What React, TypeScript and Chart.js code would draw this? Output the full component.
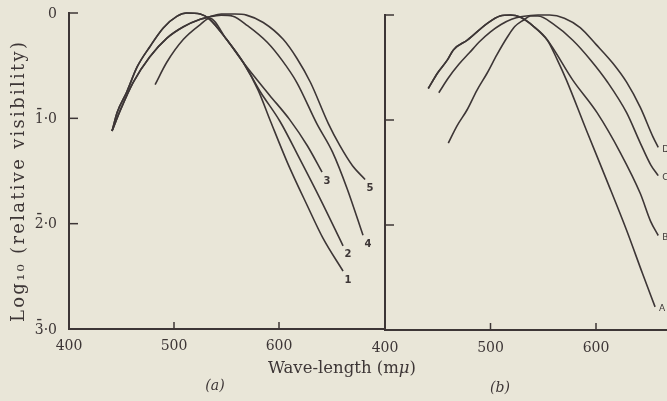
import React, { useEffect, useRef } from 'react';
import { Chart, registerables } from 'chart.js';

Chart.register(...registerables);

const PAPER = '#e9e6d8';
const INK = '#3d3636';

// axis ticks
const wavelengthTicks = [400, 500, 600];
const logTicks = [0, -1, -2, -3];
const logTickLabels = ['0', '1\u0304·0', '2\u0304·0', '3\u0304·0'];
const innerLogTicks = [0, -1, -2];
const innerWlTicks = [500, 600];

// panel (a) curves
const aNames = ['1', '2', '3', '4', '5'];
const a1Wl = [441, 446, 455, 465, 477, 490, 503, 512, 525, 534, 550, 566, 580, 592, 608, 627, 642, 661];
const a1Log = [-1.12, -0.94, -0.75, -0.51, -0.32, -0.14, -0.03, 0, -0.01, -0.06, -0.25, -0.47, -0.73, -1.03, -1.42, -1.83, -2.14, -2.45];
const a2Wl = [441, 446, 455, 465, 477, 490, 503, 512, 525, 534, 550, 566, 582, 601, 620, 639, 661];
const a2Log = [-1.12, -0.94, -0.75, -0.51, -0.32, -0.14, -0.03, 0, -0.01, -0.06, -0.25, -0.47, -0.745, -1.03, -1.39, -1.76, -2.21];
const a3Wl = [482, 493, 509, 525, 534, 550, 566, 591, 610, 627, 641];
const a3Log = [-0.68, -0.47, -0.25, -0.11, -0.05, -0.25, -0.47, -0.78, -1.01, -1.26, -1.51];
const a4Wl = [441, 449, 461, 477, 493, 509, 525, 534, 545, 556, 570, 589, 603, 617, 636, 651, 665, 680];
const a4Log = [-1.12, -0.92, -0.66, -0.415, -0.24, -0.13, -0.06, -0.035, -0.02, -0.03, -0.12, -0.28, -0.45, -0.66, -1.05, -1.32, -1.67, -2.11];
const a5Wl = [441, 449, 461, 477, 493, 509, 525, 534, 545, 558, 569, 585, 604, 617, 630, 647, 658, 670, 682];
const a5Log = [-1.12, -0.92, -0.66, -0.415, -0.24, -0.13, -0.06, -0.035, -0.01, -0.01, -0.02, -0.09, -0.25, -0.43, -0.66, -1.05, -1.26, -1.45, -1.58];

// panel (b) curves
const bNames = ['A', 'B', 'C', 'D'];
const bAWl = [441, 450, 459, 465, 478, 497, 509, 519, 528, 541, 554, 563, 572, 591, 610, 629, 644, 656];
const bALog = [-0.7, -0.55, -0.43, -0.33, -0.24, -0.08, -0.01, 0, -0.02, -0.11, -0.24, -0.42, -0.62, -1.1, -1.57, -2.05, -2.46, -2.78];
const bBWl = [441, 450, 459, 465, 478, 497, 509, 519, 528, 541, 554, 578, 601, 623, 642, 652, 659];
const bBLog = [-0.7, -0.55, -0.43, -0.33, -0.24, -0.08, -0.01, 0, -0.02, -0.11, -0.24, -0.62, -0.93, -1.31, -1.7, -1.97, -2.1];
const bCWl = [460, 468, 478, 487, 497, 506, 516, 523, 531, 538, 545, 560, 578, 595, 611, 629, 642, 652, 659];
const bCLog = [-1.22, -1.06, -0.9, -0.72, -0.55, -0.38, -0.21, -0.11, -0.05, -0.01, -0.01, -0.09, -0.24, -0.43, -0.64, -0.93, -1.22, -1.43, -1.53];
const bDWl = [451, 460, 470, 480, 490, 500, 510, 520, 530, 545, 556, 570, 585, 600, 616, 629, 642, 654, 659];
const bDLog = [-0.74, -0.6, -0.47, -0.36, -0.25, -0.16, -0.09, -0.04, -0.015, 0, 0, -0.03, -0.12, -0.28, -0.46, -0.64, -0.88, -1.16, -1.26];

const toPts = (xs: number[], ys: number[]) => xs.map((x, i) => ({ x, y: ys[i] }));

const serif = (size: number, style = '') => `${style} ${size}px "DejaVu Serif"`.trim();

function makeDatasets(series: { x: number; y: number }[][], names: string[]) {
  return series.map((data, i) => ({
    label: names[i],
    data,
    borderColor: INK,
    borderWidth: 1.6,
    pointRadius: 0,
    fill: false,
    cubicInterpolationMode: 'monotone' as const,
    clip: false as any,
  }));
}

function drawInnerTicks(chart: any, ticksY: number[], ticksX: number[]) {
  const { ctx, chartArea, scales } = chart;
  ctx.save();
  ctx.strokeStyle = INK;
  ctx.lineWidth = 1.5;
  ticksY.forEach((v) => {
    const y = scales.y.getPixelForValue(v);
    ctx.beginPath();
    ctx.moveTo(chartArea.left, y);
    ctx.lineTo(chartArea.left + 9, y);
    ctx.stroke();
  });
  ticksX.forEach((v) => {
    const x = scales.x.getPixelForValue(v);
    ctx.beginPath();
    ctx.moveTo(x, chartArea.bottom);
    ctx.lineTo(x, chartArea.bottom - 7);
    ctx.stroke();
  });
  ctx.restore();
}

function drawEndLabels(chart: any, font: string, dx: number, dy: number, align: CanvasTextAlign) {
  const { ctx, scales } = chart;
  ctx.save();
  ctx.fillStyle = INK;
  ctx.font = font;
  ctx.textAlign = align;
  ctx.textBaseline = 'middle';
  chart.data.datasets.forEach((ds: any) => {
    const last = ds.data[ds.data.length - 1];
    const px = scales.x.getPixelForValue(last.x);
    const py = scales.y.getPixelForValue(last.y);
    ctx.fillText(ds.label, px + dx, py + dy);
  });
  ctx.restore();
}

// y tick labels with a bar (negative characteristic) over the first digit
function drawLogLabels(chart: any) {
  const { ctx, chartArea, scales } = chart;
  ctx.save();
  ctx.fillStyle = INK;
  ctx.textBaseline = 'middle';
  ctx.textAlign = 'left';
  logTicks.forEach((v, i) => {
    const label = logTickLabels[i];
    const hasBar = label.includes('\u0304');
    const plain = label.replace('\u0304', '');
    const y = scales.y.getPixelForValue(v) + 1;
    ctx.font = serif(14);
    const w = ctx.measureText(plain).width;
    const x0 = chartArea.left - 12 - w;
    ctx.fillText(plain, x0, y);
    if (hasBar) {
      const dw = ctx.measureText(plain[0]).width;
      ctx.font = serif(14, 'bold');
      ctx.textAlign = 'center';
      ctx.fillText('\u00af', x0 + dw / 2, y - 4);
      ctx.textAlign = 'left';
    }
  });
  ctx.restore();
}

const panelAPlugin = {
  id: 'panelA',
  afterDraw(chart: any) {
    drawInnerTicks(chart, innerLogTicks, innerWlTicks);
    drawLogLabels(chart);
    drawEndLabels(chart, 'bold 10px "DejaVu Sans"', 5, 9, 'center');
    const ctx = chart.ctx as CanvasRenderingContext2D;
    ctx.save();
    ctx.fillStyle = INK;
    // x-axis title
    const p1 = 'Wave-length (m';
    const p2 = '\u03bc';
    const p3 = ')';
    const fs = 16.5;
    ctx.font = serif(fs);
    const w1 = ctx.measureText(p1).width;
    const w3 = ctx.measureText(p3).width;
    ctx.font = serif(fs, 'italic');
    const w2 = ctx.measureText(p2).width;
    let x = 342 - (w1 + w2 + w3) / 2;
    ctx.textBaseline = 'alphabetic';
    ctx.textAlign = 'left';
    ctx.font = serif(fs);
    ctx.fillText(p1, x, 373);
    x += w1;
    ctx.font = serif(fs, 'italic');
    ctx.fillText(p2, x, 373);
    x += w2;
    ctx.font = serif(fs);
    ctx.fillText(p3, x, 373);
    // panel captions
    ctx.font = serif(14, 'italic');
    ctx.textAlign = 'center';
    ctx.fillText('(a)', 215, 390);
    ctx.fillText('(b)', 500, 392);
    // y-axis title
    const yTitle = 'Log\u2081\u2080 (relative visibility)';
    ctx.font = serif(18);
    const w0 = ctx.measureText(yTitle).width;
    const n = Array.from(yTitle).length;
    const spacing = Math.max(0, (280 - w0) / (n - 1));
    (ctx as any).letterSpacing = `${spacing}px`;
    ctx.translate(19, 182);
    ctx.rotate(-Math.PI / 2);
    ctx.textAlign = 'center';
    ctx.textBaseline = 'middle';
    ctx.fillText(yTitle, spacing / 2, 0);
    ctx.restore();
  },
};

const panelBPlugin = {
  id: 'panelB',
  afterDraw(chart: any) {
    drawInnerTicks(chart, innerLogTicks, innerWlTicks);
    drawEndLabels(chart, '9px "DejaVu Sans"', 4, 2, 'left');
  },
};

export default function App() {
  const refA = useRef<HTMLCanvasElement>(null);
  const refB = useRef<HTMLCanvasElement>(null);

  useEffect(() => {
    document.body.style.margin = '0';
    document.body.style.background = PAPER;
    const tickFont = { family: 'DejaVu Serif', size: 14 };

    const chartA = new Chart(refA.current!, {
      type: 'line',
      data: {
        datasets: makeDatasets(
          [toPts(a1Wl, a1Log), toPts(a2Wl, a2Log), toPts(a3Wl, a3Log), toPts(a4Wl, a4Log), toPts(a5Wl, a5Log)],
          aNames
        ) as any,
      },
      options: {
        responsive: false,
        maintainAspectRatio: false,
        animation: false,
        layout: { padding: { left: 0, right: 283, top: 13, bottom: 0 } },
        plugins: { legend: { display: false }, tooltip: { enabled: false } },
        scales: {
          x: {
            type: 'linear',
            min: 400,
            max: 700,
            afterBuildTicks: (s: any) => {
              s.ticks = wavelengthTicks.map((v) => ({ value: v }));
            },
            afterFit: (s: any) => {
              s.height = 72;
            },
            grid: { display: false, drawTicks: false },
            border: { display: true, color: INK, width: 2 },
            ticks: { font: tickFont, color: INK, padding: 9, maxRotation: 0, autoSkip: false },
          },
          y: {
            type: 'linear',
            min: -3,
            max: 0,
            afterBuildTicks: (s: any) => {
              s.ticks = logTicks.map((v) => ({ value: v }));
            },
            afterFit: (s: any) => {
              s.width = 69;
            },
            grid: { display: false, drawTicks: false },
            border: { display: true, color: INK, width: 2 },
            ticks: { display: false },
          },
        },
      },
      plugins: [panelAPlugin],
    });

    const chartB = new Chart(refB.current!, {
      type: 'line',
      data: {
        datasets: makeDatasets(
          [toPts(bAWl, bALog), toPts(bBWl, bBLog), toPts(bCWl, bCLog), toPts(bDWl, bDLog)],
          bNames
        ) as any,
      },
      options: {
        responsive: false,
        maintainAspectRatio: false,
        animation: false,
        layout: { padding: { left: 0, right: 38.5, top: 15, bottom: 0 } },
        plugins: { legend: { display: false }, tooltip: { enabled: false } },
        scales: {
          x: {
            type: 'linear',
            min: 400,
            max: 700,
            afterBuildTicks: (s: any) => {
              s.ticks = wavelengthTicks.map((v) => ({ value: v }));
            },
            afterFit: (s: any) => {
              s.height = 71;
            },
            grid: { display: false, drawTicks: false },
            border: { display: true, color: INK, width: 2 },
            ticks: { font: tickFont, color: INK, padding: 10, maxRotation: 0, autoSkip: false },
          },
          y: {
            type: 'linear',
            min: -3,
            max: 0,
            afterBuildTicks: (s: any) => {
              s.ticks = logTicks.map((v) => ({ value: v }));
            },
            afterFit: (s: any) => {
              s.width = 385;
            },
            grid: { display: false, drawTicks: false },
            border: { display: true, color: INK, width: 2 },
            ticks: { display: false },
          },
        },
      },
      plugins: [panelBPlugin],
    });

    return () => {
      chartA.destroy();
      chartB.destroy();
    };
  }, []);

  return (
    <div
      style={{
        position: 'fixed',
        left: 0,
        top: 0,
        width: 667,
        height: 401,
        overflow: 'hidden',
        background: PAPER,
      }}
    >
      <canvas ref={refB} width={740} height={401} style={{ position: 'absolute', left: 0, top: 0 }} />
      <canvas ref={refA} width={667} height={401} style={{ position: 'absolute', left: 0, top: 0 }} />
    </div>
  );
}
